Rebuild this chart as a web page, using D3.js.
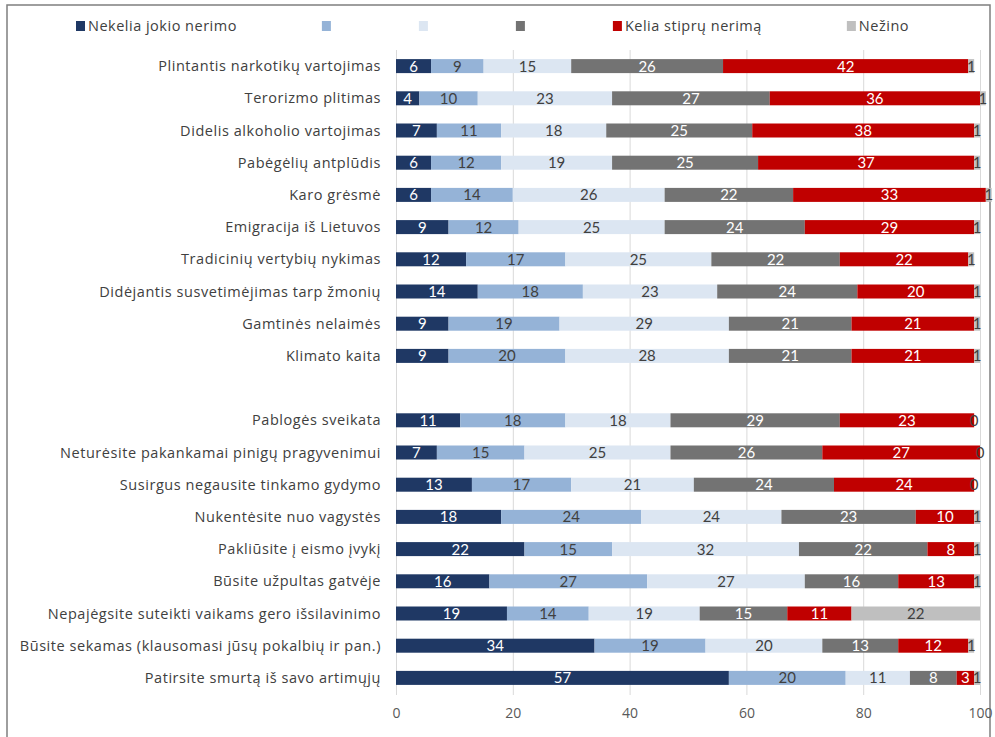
<!DOCTYPE html>
<html>
<head>
<meta charset="utf-8">
<script src="https://cdn.jsdelivr.net/npm/d3@7"></script>
<style>
  body { margin: 0; background: #fff; }
  svg { display: block; }
</style>
</head>
<body>
<div id="chart"></div>
<script>
// categories (two groups, blank row between)
var topCats = [
    "Plintantis narkotikų vartojimas",
    "Terorizmo plitimas",
    "Didelis alkoholio vartojimas",
    "Pabėgėlių antplūdis",
    "Karo grėsmė",
    "Emigracija iš Lietuvos",
    "Tradicinių vertybių nykimas",
    "Didėjantis susvetimėjimas tarp žmonių",
    "Gamtinės nelaimės",
    "Klimato kaita"
];
var bottomCats = [
    "Pablogės sveikata",
    "Neturėsite pakankamai pinigų pragyvenimui",
    "Susirgus negausite tinkamo gydymo",
    "Nukentėsite nuo vagystės",
    "Pakliūsite į eismo įvykį",
    "Būsite užpultas gatvėje",
    "Nepajėgsite suteikti vaikams gero išsilavinimo",
    "Būsite sekamas (klausomasi jūsų pokalbių ir pan.)",
    "Patirsite smurtą iš savo artimųjų"
];

var seriesNames = ["Nekelia jokio nerimo", "", "", "", "Kelia stiprų nerimą", "Nežino"];

var noWorry   = [6, 4, 7, 6, 6, 9, 12, 14, 9, 9, 11, 7, 13, 18, 22, 16, 19, 34, 57];
var level2    = [9, 10, 11, 12, 14, 12, 17, 18, 19, 20, 18, 15, 17, 24, 15, 27, 14, 19, 20];
var level3    = [15, 23, 18, 19, 26, 25, 25, 23, 29, 28, 18, 25, 21, 24, 32, 27, 19, 20, 11];
var level4    = [26, 27, 25, 25, 22, 24, 22, 24, 21, 21, 29, 26, 24, 23, 22, 16, 15, 13, 8];
var strongly  = [42, 36, 38, 37, 33, 29, 22, 20, 21, 21, 23, 27, 24, 10, 8, 13, 11, 12, 3];
var dontKnow  = [1, 1, 1, 1, 1, 1, 1, 1, 1, 1, 0, 0, 0, 1, 1, 1, 22, 1, 1];

var xTicks = [0, 20, 40, 60, 80, 100];

var colors = ["#1f3864", "#95b3d7", "#dce6f2", "#737373", "#c00000", "#bfbfbf"];
var labelColors = ["#ffffff", "#404040", "#404040", "#ffffff", "#ffffff", "#404040"];

var svgWidth = 995, svgHeight = 737;
var svg = d3.select("#chart").append("svg")
    .attr("width", svgWidth)
    .attr("height", svgHeight);

// chart frame
svg.append("rect")
    .attr("x", 7).attr("y", 5)
    .attr("width", 983).attr("height", 745)
    .attr("fill", "none")
    .attr("stroke", "#7f7f7f")
    .attr("stroke-width", 1.5);

var cats = topCats.concat(bottomCats);
var gapKey = "__gap__";
var domain = topCats.concat([gapKey], bottomCats);

// build table for stacking
var keys = ["s0", "s1", "s2", "s3", "s4", "s5"];
var seriesData = [noWorry, level2, level3, level4, strongly, dontKnow];
var table = cats.map(function (c, i) {
    var row = { cat: c };
    keys.forEach(function (k, j) { row[k] = seriesData[j][i]; });
    return row;
});

var x = d3.scaleLinear().domain([0, 100]).range([396, 980]);
var y = d3.scalePoint().domain(domain).range([50, 694]).padding(0.5);
var barH = 14;

var textFont = "'Open Sans', Lato, sans-serif";
var numFont = "Lato, 'Open Sans', sans-serif";

// gridlines
svg.append("g")
    .attr("transform", "translate(0,50)")
    .call(d3.axisBottom(x).tickValues(xTicks).tickSize(645).tickFormat(""))
    .call(function (g) { g.select(".domain").remove(); })
    .selectAll("line")
    .attr("stroke", "#d9d9d9");

// x axis labels
svg.append("g")
    .attr("transform", "translate(0,705)")
    .call(d3.axisBottom(x).tickValues(xTicks).tickSize(0).tickPadding(0))
    .call(function (g) { g.select(".domain").remove(); })
    .selectAll("text")
    .attr("dy", "0.9em")
    .attr("fill", "#595959")
    .style("font-family", textFont)
    .style("font-size", "14px");

// y axis category labels
svg.append("g")
    .attr("transform", "translate(381,0)")
    .call(d3.axisLeft(y).tickValues(cats).tickSize(0).tickPadding(0))
    .call(function (g) { g.select(".domain").remove(); })
    .selectAll("text")
    .attr("fill", "#404040")
    .style("font-family", textFont)
    .style("font-size", "14.5px")
    .style("letter-spacing", "0.55px");

var stack = d3.stack().keys(keys);
var layers = stack(table);

var layerG = svg.selectAll("g.layer")
    .data(layers)
    .enter().append("g")
    .attr("class", "layer")
    .attr("fill", function (d, i) { return colors[i]; });

layerG.selectAll("rect")
    .data(function (d) { return d; })
    .enter().append("rect")
    .attr("x", function (d) { return x(d[0]); })
    .attr("width", function (d) { return x(d[1]) - x(d[0]); })
    .attr("y", function (d) { return y(d.data.cat) - barH / 2; })
    .attr("height", barH);

// value labels
layers.forEach(function (layer, i) {
    svg.append("g").selectAll("text")
        .data(layer)
        .enter().append("text")
        .attr("x", function (d) { return (x(d[0]) + x(d[1])) / 2; })
        .attr("y", function (d) { return y(d.data.cat); })
        .attr("dy", "0.36em")
        .attr("text-anchor", "middle")
        .attr("fill", labelColors[i])
        .style("font-family", numFont)
        .style("font-size", "15px")
        .text(function (d) { return d[1] - d[0]; });
});

// legend
var legend = svg.append("g").attr("transform", "translate(76,26)");
var lx = 0;
seriesNames.forEach(function (name, i) {
    var item = legend.append("g").attr("transform", "translate(" + lx + ",0)");
    item.append("rect")
        .attr("x", 0).attr("y", -5)
        .attr("width", 9).attr("height", 10)
        .attr("fill", colors[i]);
    var t = item.append("text")
        .attr("x", 12).attr("y", 0)
        .attr("dy", "0.35em")
        .attr("fill", "#404040")
        .style("font-family", textFont)
        .style("font-size", "14.5px")
        .style("letter-spacing", "0.5px")
        .text(name);
    var w = name ? t.node().getBBox().width : 0;
    lx += 12 + w + 85;
});
</script>
</body>
</html>
